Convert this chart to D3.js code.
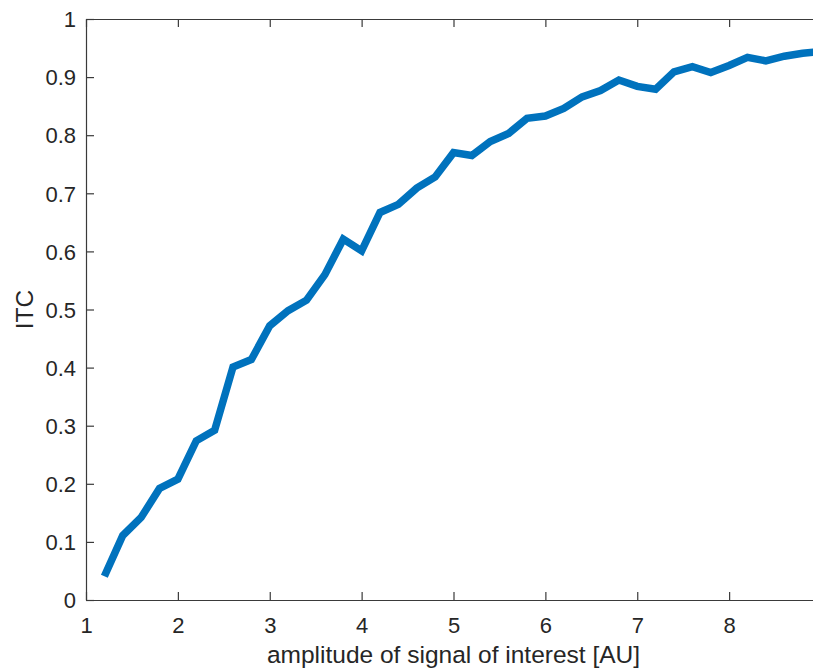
<!DOCTYPE html>
<html>
  <head>
    <meta charset="UTF-8">
    <title>ITC vs amplitude</title>
    <style>
      * { margin: 0; padding: 0; overflow: hidden; }
      body { background: #fff; }
      text { font-family: "Liberation Sans", Arial, sans-serif; fill: #262626; }
    </style>
    <script src="https://d3js.org/d3.v7.min.js"></script>
  </head>
  <body>
    <script type="text/javascript">
      // データ
      const amplitude = [1.2, 1.4, 1.6, 1.8, 2.0, 2.2, 2.4, 2.6, 2.8, 3.0,
                         3.2, 3.4, 3.6, 3.8, 4.0, 4.2, 4.4, 4.6, 4.8, 5.0,
                         5.2, 5.4, 5.6, 5.8, 6.0, 6.2, 6.4, 6.6, 6.8, 7.0,
                         7.2, 7.4, 7.6, 7.8, 8.0, 8.2, 8.4, 8.6, 8.8, 9.0];
      const itc = [0.041, 0.111, 0.142, 0.192, 0.208, 0.274, 0.292, 0.401, 0.414, 0.472,
                   0.498, 0.516, 0.560, 0.621, 0.601, 0.667, 0.681, 0.709, 0.728, 0.770,
                   0.765, 0.789, 0.803, 0.829, 0.833, 0.846, 0.866, 0.877, 0.895, 0.884,
                   0.879, 0.909, 0.918, 0.908, 0.920, 0.934, 0.928, 0.936, 0.941, 0.944];
      const xTicks = [1, 2, 3, 4, 5, 6, 7, 8];
      const yTicks = [0, 0.1, 0.2, 0.3, 0.4, 0.5, 0.6, 0.7, 0.8, 0.9, 1];

      const WIDTH = 813;
      const HEIGHT = 671;
      // plot box (right side lies just past the window edge)
      const PLOT = { left: 86, top: 19, bottom: 600, right: 821 };
      const TICK = 8;
      const AXIS_COLOR = "#3a3a3a";

      const svg = d3.select("body").append("svg")
        .attr("width", WIDTH)
        .attr("height", HEIGHT);

      const x = d3.scaleLinear().domain([1, 9]).range([PLOT.left, PLOT.right]);
      const y = d3.scaleLinear().domain([0, 1]).range([PLOT.bottom, PLOT.top]);

      // line
      const line = d3.line()
        .x((d, i) => x(amplitude[i]))
        .y((d) => y(d));

      svg.append("path")
        .datum(itc)
        .attr("d", line)
        .attr("fill", "none")
        .attr("stroke", "#0072BD")
        .attr("stroke-width", 7.5)
        .attr("stroke-linejoin", "miter")
        .attr("stroke-linecap", "butt");

      // axes (MATLAB style box, ticks inside)
      const axisBottom = svg.append("g")
        .attr("transform", `translate(0, ${PLOT.bottom})`)
        .call(d3.axisBottom(x).tickValues(xTicks).tickSizeInner(-TICK).tickSizeOuter(0).tickFormat(d3.format("d")));
      const axisTop = svg.append("g")
        .attr("transform", `translate(0, ${PLOT.top})`)
        .call(d3.axisTop(x).tickValues(xTicks).tickSizeInner(-TICK).tickSizeOuter(0).tickFormat(""));
      const axisLeft = svg.append("g")
        .attr("transform", `translate(${PLOT.left}, 0)`)
        .call(d3.axisLeft(y).tickValues(yTicks).tickSizeInner(-TICK).tickSizeOuter(0).tickFormat((d) => String(+d.toFixed(1))));

      [axisBottom, axisTop, axisLeft].forEach((g) => {
        g.select(".domain").attr("stroke", AXIS_COLOR).attr("stroke-width", 1.2);
        g.selectAll(".tick line").attr("stroke", AXIS_COLOR).attr("stroke-width", 1.2);
        g.selectAll(".tick text")
          .attr("font-size", "22px")
          .attr("font-family", "'Liberation Sans', Arial, sans-serif")
          .attr("fill", "#262626");
      });

      axisBottom.selectAll(".tick text").attr("y", 0).attr("dy", "33px");
      axisLeft.selectAll(".tick text").attr("x", -10).attr("dy", "0.35em");

      // labels
      svg.append("text")
        .attr("x", x(5))
        .attr("y", 663)
        .attr("text-anchor", "middle")
        .attr("font-size", "24.5px")
        .text("amplitude of signal of interest [AU]");

      svg.append("text")
        .attr("transform", `translate(33, ${(PLOT.top + PLOT.bottom) / 2}) rotate(-90)`)
        .attr("text-anchor", "middle")
        .attr("font-size", "24.5px")
        .text("ITC");
    </script>
  </body>
</html>
